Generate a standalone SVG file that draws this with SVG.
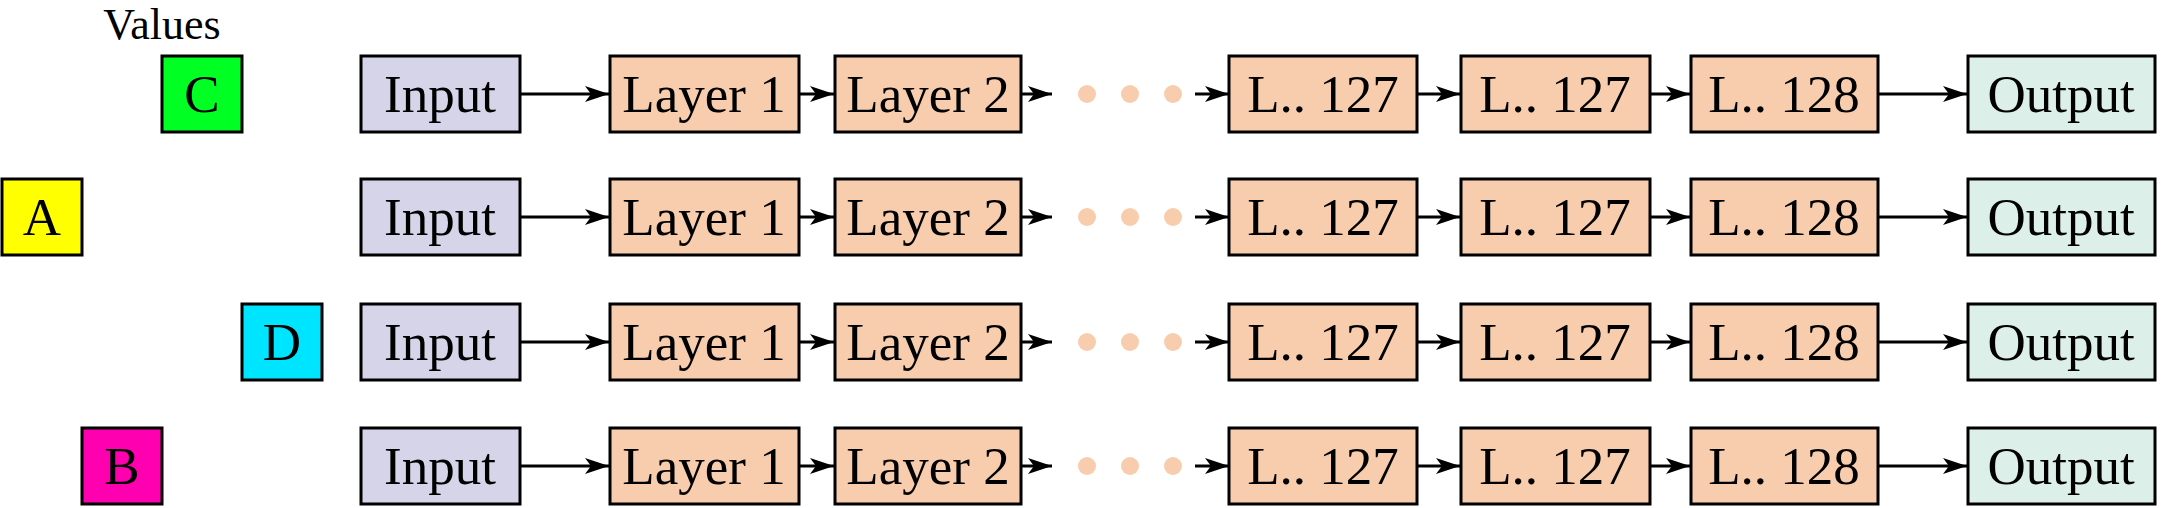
<svg xmlns="http://www.w3.org/2000/svg" width="2170" height="508" viewBox="0 0 2170 508">
<defs>
<style>
text{font-family:"Liberation Serif",serif;font-size:53px;fill:#000;text-anchor:middle;dominant-baseline:central}
rect{stroke:#000;stroke-width:3}
.in{fill:#d5d4e9}.ly{fill:#f8cdae}.out{fill:#dcefe8}
.dot{fill:#f8cdae}
</style>
<marker id="ah2" viewBox="0 0 24 16" refX="24" refY="8" markerWidth="24" markerHeight="16" markerUnits="userSpaceOnUse" orient="auto"><path d="M0,0 L24,8 L0,16 L6,8 Z" fill="#000"/></marker>
</defs>
<text x="162" y="24" style="font-size:44px">Values</text>
<g id="C"><rect x="162" y="56" width="80" height="76" fill="#00ff22"/><text x="202" y="94">C</text></g>
<g id="A"><rect x="2" y="179" width="80" height="76" fill="#ffff00"/><text x="42" y="217">A</text></g>
<g id="D"><rect x="242" y="304" width="80" height="76" fill="#00e5ff"/><text x="282" y="342">D</text></g>
<g id="B"><rect x="82" y="428" width="80" height="76" fill="#ff00b0"/><text x="122" y="466">B</text></g>
<g id="row1" transform="translate(0,94)">
<g id="r1-input"><rect class="in" x="361" y="-38" width="159" height="76"/><text x="440" y="0">Input</text></g>
<g id="r1-l1"><rect class="ly" x="610" y="-38" width="189" height="76"/><text x="704" y="0">Layer 1</text></g>
<g id="r1-l2"><rect class="ly" x="835" y="-38" width="186" height="76"/><text x="928" y="0">Layer 2</text></g>
<circle class="dot" cx="1087" cy="0" r="9"/><circle class="dot" cx="1130" cy="0" r="9"/><circle class="dot" cx="1173" cy="0" r="9"/>
<g id="r1-l127a"><rect class="ly" x="1229" y="-38" width="188" height="76"/><text x="1323" y="0">L.. 127</text></g>
<g id="r1-l127b"><rect class="ly" x="1461" y="-38" width="189" height="76"/><text x="1555" y="0">L.. 127</text></g>
<g id="r1-l128"><rect class="ly" x="1691" y="-38" width="187" height="76"/><text x="1784" y="0">L.. 128</text></g>
<g id="r1-out"><rect class="out" x="1968" y="-38" width="187" height="76"/><text x="2061" y="0">Output</text></g>
</g>
<g id="row2" transform="translate(0,217)">
<g id="r2-input"><rect class="in" x="361" y="-38" width="159" height="76"/><text x="440" y="0">Input</text></g>
<g id="r2-l1"><rect class="ly" x="610" y="-38" width="189" height="76"/><text x="704" y="0">Layer 1</text></g>
<g id="r2-l2"><rect class="ly" x="835" y="-38" width="186" height="76"/><text x="928" y="0">Layer 2</text></g>
<circle class="dot" cx="1087" cy="0" r="9"/><circle class="dot" cx="1130" cy="0" r="9"/><circle class="dot" cx="1173" cy="0" r="9"/>
<g id="r2-l127a"><rect class="ly" x="1229" y="-38" width="188" height="76"/><text x="1323" y="0">L.. 127</text></g>
<g id="r2-l127b"><rect class="ly" x="1461" y="-38" width="189" height="76"/><text x="1555" y="0">L.. 127</text></g>
<g id="r2-l128"><rect class="ly" x="1691" y="-38" width="187" height="76"/><text x="1784" y="0">L.. 128</text></g>
<g id="r2-out"><rect class="out" x="1968" y="-38" width="187" height="76"/><text x="2061" y="0">Output</text></g>
</g>
<g id="row3" transform="translate(0,342)">
<g id="r3-input"><rect class="in" x="361" y="-38" width="159" height="76"/><text x="440" y="0">Input</text></g>
<g id="r3-l1"><rect class="ly" x="610" y="-38" width="189" height="76"/><text x="704" y="0">Layer 1</text></g>
<g id="r3-l2"><rect class="ly" x="835" y="-38" width="186" height="76"/><text x="928" y="0">Layer 2</text></g>
<circle class="dot" cx="1087" cy="0" r="9"/><circle class="dot" cx="1130" cy="0" r="9"/><circle class="dot" cx="1173" cy="0" r="9"/>
<g id="r3-l127a"><rect class="ly" x="1229" y="-38" width="188" height="76"/><text x="1323" y="0">L.. 127</text></g>
<g id="r3-l127b"><rect class="ly" x="1461" y="-38" width="189" height="76"/><text x="1555" y="0">L.. 127</text></g>
<g id="r3-l128"><rect class="ly" x="1691" y="-38" width="187" height="76"/><text x="1784" y="0">L.. 128</text></g>
<g id="r3-out"><rect class="out" x="1968" y="-38" width="187" height="76"/><text x="2061" y="0">Output</text></g>
</g>
<g id="row4" transform="translate(0,466)">
<g id="r4-input"><rect class="in" x="361" y="-38" width="159" height="76"/><text x="440" y="0">Input</text></g>
<g id="r4-l1"><rect class="ly" x="610" y="-38" width="189" height="76"/><text x="704" y="0">Layer 1</text></g>
<g id="r4-l2"><rect class="ly" x="835" y="-38" width="186" height="76"/><text x="928" y="0">Layer 2</text></g>
<circle class="dot" cx="1087" cy="0" r="9"/><circle class="dot" cx="1130" cy="0" r="9"/><circle class="dot" cx="1173" cy="0" r="9"/>
<g id="r4-l127a"><rect class="ly" x="1229" y="-38" width="188" height="76"/><text x="1323" y="0">L.. 127</text></g>
<g id="r4-l127b"><rect class="ly" x="1461" y="-38" width="189" height="76"/><text x="1555" y="0">L.. 127</text></g>
<g id="r4-l128"><rect class="ly" x="1691" y="-38" width="187" height="76"/><text x="1784" y="0">L.. 128</text></g>
<g id="r4-out"><rect class="out" x="1968" y="-38" width="187" height="76"/><text x="2061" y="0">Output</text></g>
</g>
<g id="connectors" stroke="#000" stroke-width="3" fill="none">
<g transform="translate(0,94)"><path d="M521 0H609" marker-end="url(#ah2)"/><path d="M800 0H834" marker-end="url(#ah2)"/><path d="M1022 0H1052" marker-end="url(#ah2)"/><path d="M1195 0H1229" marker-end="url(#ah2)"/><path d="M1418 0H1460" marker-end="url(#ah2)"/><path d="M1651 0H1690" marker-end="url(#ah2)"/><path d="M1879 0H1967" marker-end="url(#ah2)"/></g>
<g transform="translate(0,217)"><path d="M521 0H609" marker-end="url(#ah2)"/><path d="M800 0H834" marker-end="url(#ah2)"/><path d="M1022 0H1052" marker-end="url(#ah2)"/><path d="M1195 0H1229" marker-end="url(#ah2)"/><path d="M1418 0H1460" marker-end="url(#ah2)"/><path d="M1651 0H1690" marker-end="url(#ah2)"/><path d="M1879 0H1967" marker-end="url(#ah2)"/></g>
<g transform="translate(0,342)"><path d="M521 0H609" marker-end="url(#ah2)"/><path d="M800 0H834" marker-end="url(#ah2)"/><path d="M1022 0H1052" marker-end="url(#ah2)"/><path d="M1195 0H1229" marker-end="url(#ah2)"/><path d="M1418 0H1460" marker-end="url(#ah2)"/><path d="M1651 0H1690" marker-end="url(#ah2)"/><path d="M1879 0H1967" marker-end="url(#ah2)"/></g>
<g transform="translate(0,466)"><path d="M521 0H609" marker-end="url(#ah2)"/><path d="M800 0H834" marker-end="url(#ah2)"/><path d="M1022 0H1052" marker-end="url(#ah2)"/><path d="M1195 0H1229" marker-end="url(#ah2)"/><path d="M1418 0H1460" marker-end="url(#ah2)"/><path d="M1651 0H1690" marker-end="url(#ah2)"/><path d="M1879 0H1967" marker-end="url(#ah2)"/></g>
</g>
</svg>
